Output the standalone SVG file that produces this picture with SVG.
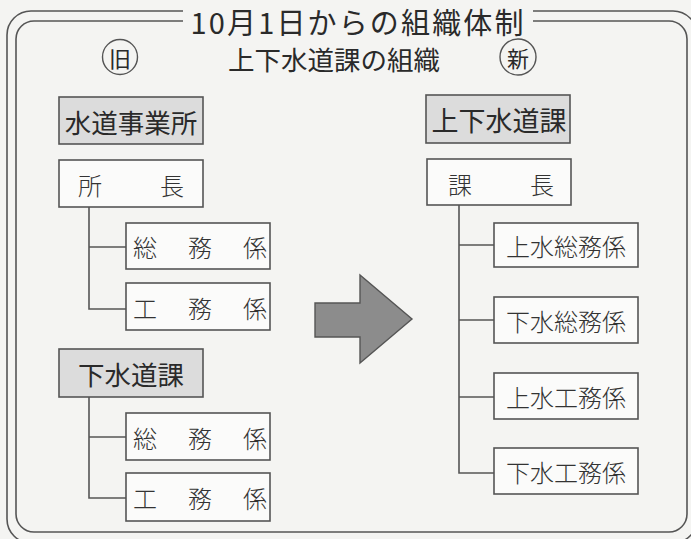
<svg xmlns="http://www.w3.org/2000/svg" width="691" height="539" viewBox="0 0 691 539">
  <style>
    .frame { fill: none; stroke: #555; stroke-width: 1.6; }
    .box { fill: #fbfbfa; stroke: #555; stroke-width: 1.6; }
    .gbox { fill: #dcdcdc; stroke: #555; stroke-width: 1.6; }
    .conn { fill: none; stroke: #555; stroke-width: 1.6; }
    .sans { font-family: "Noto Sans CJK JP", "Noto Sans CJK SC", sans-serif; fill: #2a2a2a; dominant-baseline: central; text-anchor: middle; }
    .min { font-family: "Noto Sans CJK JP", "Noto Sans CJK SC", serif; fill: #333; font-weight: 300; dominant-baseline: central; text-anchor: middle; font-size: 24px; }
    .circ { fill: none; stroke: #555; stroke-width: 1.4; }
  </style>
  <rect x="0" y="0" width="691" height="539" fill="#f4f4f2"/>

  <g id="frame">
    <rect class="frame" x="7" y="11" width="690" height="532" rx="24"/>
    <rect class="frame" x="16" y="21" width="671" height="511" rx="18"/>
    <rect x="183" y="0" width="350" height="32" fill="#f4f4f2"/>
    <text class="sans" x="357" y="21" font-size="29" textLength="333" lengthAdjust="spacing">10月1日からの組織体制</text>
  </g>

  <g id="header">
    <circle class="circ" cx="120" cy="57" r="17.5"/>
    <text class="sans" x="120" y="57" font-size="22">旧</text>
    <text class="sans" x="334" y="58" font-size="26.5">上下水道課の組織</text>
    <circle class="circ" cx="518" cy="57" r="18"/>
    <text class="sans" x="518" y="57" font-size="22">新</text>
  </g>

  <g id="connectors">
    <path class="conn" d="M89 207 V309 H126 M89 247 H126"/>
    <path class="conn" d="M89 397 V498 H126 M89 437 H126"/>
    <path class="conn" d="M459 205 V473 H494 M459 245 H494 M459 320 H494 M459 397 H494"/>
  </g>

  <g id="arrow">
    <polygon points="315,303 360,303 360,275 412,319 360,363 360,337 315,337" fill="#8c8c8c" stroke="#555" stroke-width="1.4"/>
  </g>

  <g id="old-suido">
    <rect class="gbox" x="59" y="97" width="144" height="47"/>
    <text class="sans" x="131" y="121" font-size="26.5">水道事業所</text>
  </g>
  <g id="old-shocho">
    <rect class="box" x="59" y="160" width="144" height="47"/>
    <text class="min" y="184" font-size="23"><tspan x="90">所</tspan><tspan x="172">長</tspan></text>
  </g>
  <g id="old-somu1">
    <rect class="box" x="126" y="223" width="144" height="46"/>
    <text class="min" y="246"><tspan x="145">総</tspan><tspan x="200">務</tspan><tspan x="255">係</tspan></text>
  </g>
  <g id="old-komu1">
    <rect class="box" x="126" y="283" width="144" height="47"/>
    <text class="min" y="307"><tspan x="145">工</tspan><tspan x="200">務</tspan><tspan x="255">係</tspan></text>
  </g>

  <g id="old-gesui">
    <rect class="gbox" x="59" y="349" width="144" height="48"/>
    <text class="sans" x="131" y="373" font-size="26.5">下水道課</text>
  </g>
  <g id="old-somu2">
    <rect class="box" x="126" y="413" width="144" height="47"/>
    <text class="min" y="437"><tspan x="145">総</tspan><tspan x="200">務</tspan><tspan x="255">係</tspan></text>
  </g>
  <g id="old-komu2">
    <rect class="box" x="126" y="473" width="144" height="48"/>
    <text class="min" y="497"><tspan x="145">工</tspan><tspan x="200">務</tspan><tspan x="255">係</tspan></text>
  </g>

  <g id="new-jogesui">
    <rect class="gbox" x="426" y="95" width="144" height="48"/>
    <text class="sans" x="499" y="119" font-size="27">上下水道課</text>
  </g>
  <g id="new-kacho">
    <rect class="box" x="427" y="159" width="144" height="46"/>
    <text class="min" y="183" font-size="23"><tspan x="460">課</tspan><tspan x="542">長</tspan></text>
  </g>
  <g id="new-josomu">
    <rect class="box" x="494" y="223" width="144" height="44"/>
    <text class="min" x="566" y="245" font-size="25.5">上水総務係</text>
  </g>
  <g id="new-gesomu">
    <rect class="box" x="494" y="297" width="144" height="46"/>
    <text class="min" x="566" y="320" font-size="25.5">下水総務係</text>
  </g>
  <g id="new-jokomu">
    <rect class="box" x="494" y="373" width="144" height="46"/>
    <text class="min" x="566" y="396" font-size="25.5">上水工務係</text>
  </g>
  <g id="new-gekomu">
    <rect class="box" x="494" y="448" width="144" height="46"/>
    <text class="min" x="566" y="471" font-size="25.5">下水工務係</text>
  </g>
</svg>
